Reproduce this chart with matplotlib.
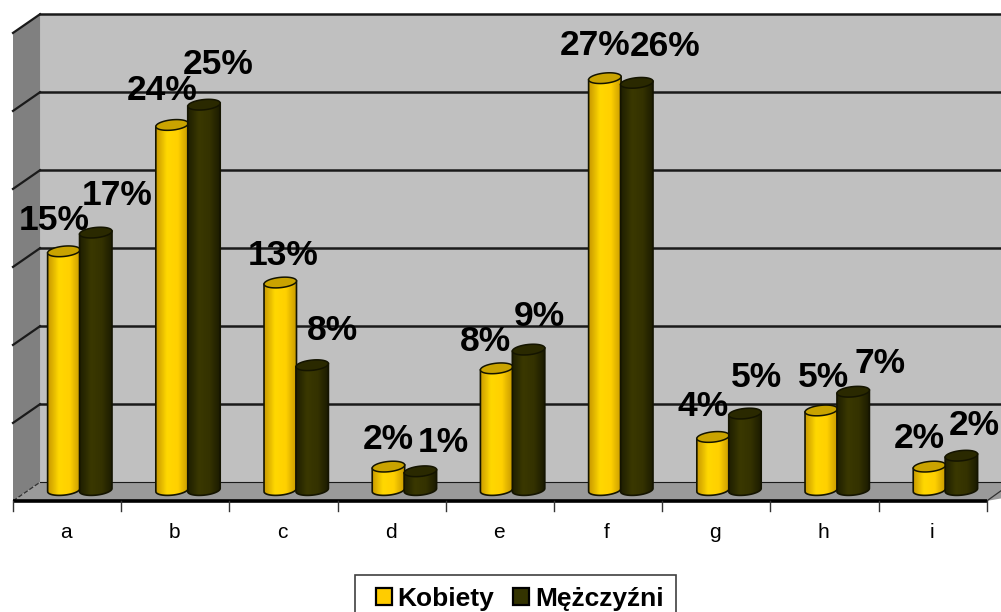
import numpy as np
import matplotlib
matplotlib.use('Agg')
import matplotlib.pyplot as plt
from matplotlib.colors import LinearSegmentedColormap
from matplotlib.patches import PathPatch, Polygon, Rectangle
from matplotlib.path import Path

plt.rcParams['font.family'] = ['Liberation Sans', 'DejaVu Sans']

categories = ['a', 'b', 'c', 'd', 'e', 'f', 'g', 'h', 'i']
kobiety = [15.3, 23.4, 13.3, 1.5, 7.8, 26.4, 3.4, 5.1, 1.5]
mezczyzni = [16.5, 24.7, 8.0, 1.2, 9.0, 26.1, 4.9, 6.3, 2.2]
kobiety_labels = ['15%', '24%', '13%', '2%', '8%', '27%', '4%', '5%', '2%']
mezczyzni_labels = ['17%', '25%', '8%', '1%', '9%', '26%', '5%', '7%', '2%']
y_grid = [0, 5, 10, 15, 20, 25, 30]

# label offsets from the top of each bar, in pixels
kobiety_offsets = [(-10, 31), (-10, 34), (3, 27), (0, 27), (-11, 27), (-10, 33), (-10, 30), (2, 33), (-10, 28)]
mezczyzni_offsets = [(21, 37), (14, 40), (20, 35), (23, 29), (11, 33), (28, 36), (11, 36), (27, 28), (13, 30)]

BAR_W = 0.30
DEPTH_X = 0.25
BACK_Y = 0.5
FLOOR_Y = -0.7
ELL_H = 0.33
TILT = 0.10

yellow_cmap = LinearSegmentedColormap.from_list(
    'yellow', ['#c99a00', '#ffd800', '#ffd000', '#c79a00'])
dark_cmap = LinearSegmentedColormap.from_list(
    'dark', ['#1f1f00', '#3a3800', '#343200', '#1a1a00'])
grad = np.linspace(0, 1, 64).reshape(1, -1)

fig = plt.figure(figsize=(10.01, 6.12), dpi=100, facecolor='white')
ax = fig.add_axes([0, 0, 1, 1])
xlim = (-13 / 108.2, (1001 - 13) / 108.2)
ylim = ((490 - 612) / 15.6, 490 / 15.6)


def cylinder(x0, value, cmap, top_color, zorder):
    # outline of the cylinder side, bottom is half an ellipse
    xm = x0 + BAR_W / 2
    t = np.linspace(np.pi, 2 * np.pi, 40)
    bx = xm + BAR_W / 2 * np.cos(t)
    by = ELL_H * np.sin(t) + TILT * np.cos(t)
    tx = bx[::-1]
    ty = value + TILT * np.cos(t[::-1])
    verts = np.vstack([np.column_stack([bx, by]), np.column_stack([tx, ty])])
    side = PathPatch(Path(np.vstack([verts, verts[:1]])), fc='none', ec='#141400',
                     lw=1.2, zorder=zorder + 0.2)
    ax.add_patch(side)
    im = ax.imshow(grad, cmap=cmap, aspect='auto', zorder=zorder,
                   extent=(x0, x0 + BAR_W, -1, value + 1))
    im.set_clip_path(side)
    t2 = np.linspace(0, 2 * np.pi, 80)
    top = np.column_stack([xm + BAR_W / 2 * np.cos(t2),
                           value + ELL_H * np.sin(t2) + TILT * np.cos(t2)])
    ax.add_patch(Polygon(top, closed=True, fc=top_color, ec='#141400', lw=1.1,
                         zorder=zorder + 0.3))


# walls and floor
ax.add_patch(Rectangle((DEPTH_X, BACK_Y), 10, 30, fc='#c0c0c0', ec='none', zorder=1))
ax.add_patch(Polygon([(0, FLOOR_Y), (DEPTH_X, BACK_Y), (DEPTH_X, BACK_Y + 30), (0, FLOOR_Y + 30)],
                     closed=True, fc='#808080', ec='none', zorder=1))
ax.add_patch(Polygon([(0, FLOOR_Y), (DEPTH_X, BACK_Y), (10, BACK_Y), (9, FLOOR_Y)],
                     closed=True, fc='#9a9a9a', ec='none', zorder=1))

for g in y_grid:
    y = BACK_Y + g
    ax.plot([DEPTH_X, xlim[1]], [y, y], color='#1a1a1a', lw=1.8 if g else 0.8, zorder=2)
    if g:
        ax.plot([0, DEPTH_X], [FLOOR_Y + g, y], color='#1a1a1a', lw=1.6, zorder=2)
ax.plot([0, DEPTH_X], [FLOOR_Y, BACK_Y], color='#303030', lw=0.9, ls='--', zorder=2)
ax.plot([9, xlim[1]], [FLOOR_Y, FLOOR_Y + 0.65], color='#303030', lw=0.9, zorder=2)

# front axis and ticks
ax.plot([0, 9], [FLOOR_Y, FLOOR_Y], color='black', lw=2.6, zorder=3, solid_capstyle='butt')
for k in range(len(categories) + 1):
    ax.plot([k, k], [FLOOR_Y, FLOOR_Y - 0.65], color='#333333', lw=1, zorder=3)

for i, cat in enumerate(categories):
    ax.text(i + 0.49, -2.72, cat, ha='center', va='center', fontsize=15, color='black', zorder=6)
    x_k = i + 0.32
    x_m = x_k + BAR_W - 0.005
    cylinder(x_k, kobiety[i], yellow_cmap, '#c9a300', 4 + i * 0.01)
    cylinder(x_m, mezczyzni[i], dark_cmap, '#2a2900', 4.5 + i * 0.01)
    for x0, v, txt, off in [(x_k, kobiety[i], kobiety_labels[i], kobiety_offsets[i]),
                            (x_m, mezczyzni[i], mezczyzni_labels[i], mezczyzni_offsets[i])]:
        ax.annotate(txt, (x0 + BAR_W / 2, v), xytext=(off[0] * 0.72, off[1] * 0.72),
                    textcoords='offset points', ha='center', va='center',
                    fontsize=25.5, fontweight='bold', color='black', zorder=7)

# legend box runs off the bottom edge of the picture like the original
fig.add_artist(Rectangle((355 / 1001, -0.05), 321 / 1001, 1 - 575 / 612 + 0.05,
                         transform=fig.transFigure, fc='white', ec='#404040', lw=1.2, zorder=8))
handles = [Rectangle((0, 0), 1, 1, fc='#ffcc00', ec='black', lw=1.6),
           Rectangle((0, 0), 1, 1, fc='#333300', ec='black', lw=1.6)]
leg = fig.legend(handles, ['Kobiety', 'Mężczyźni'], ncols=2, loc='upper left',
                 bbox_to_anchor=(376 / 1001, 1 - 587 / 612), frameon=False,
                 prop={'weight': 'bold', 'size': 19}, handlelength=0.6, handleheight=0.6,
                 handletextpad=0.22, columnspacing=0.72, borderpad=0, borderaxespad=0)
leg.set_zorder(9)

ax.set_xlim(xlim)
ax.set_ylim(ylim)
ax.axis('off')

fig.savefig('out.png', dpi=100)
